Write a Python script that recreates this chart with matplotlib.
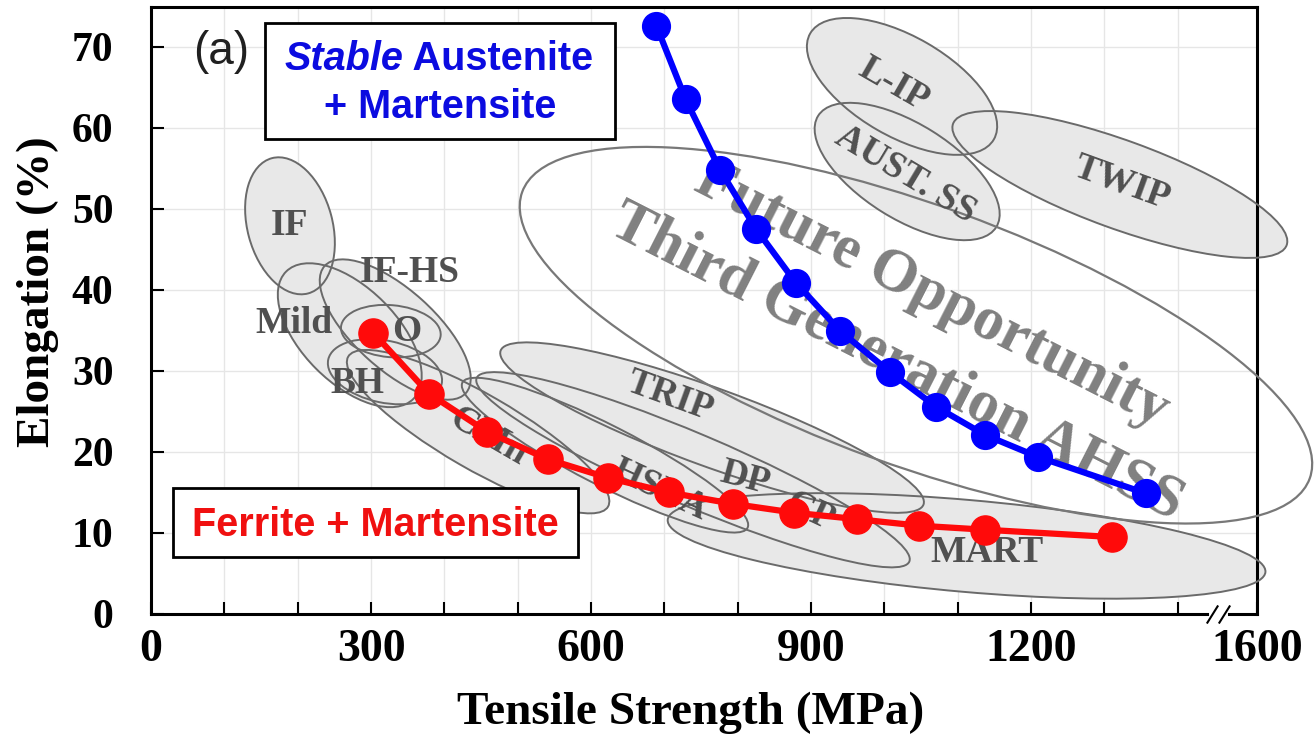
import matplotlib
matplotlib.use("Agg")
import matplotlib.pyplot as plt
from matplotlib.patches import Ellipse, Rectangle
from matplotlib.transforms import ScaledTranslation

# ---------------- data ----------------
ferrite_ts = [303, 379, 458, 541, 623, 706, 793, 877, 963, 1047, 1137, 1310]
ferrite_el = [34.7, 27.2, 22.5, 19.1, 16.8, 15.0, 13.6, 12.5, 11.7, 10.9, 10.4, 9.5]

austenite_ts = [689, 729, 776, 825, 879, 940, 1007, 1070, 1137, 1209, 1356]
austenite_el = [72.6, 63.5, 54.8, 47.5, 40.9, 34.9, 29.9, 25.6, 22.1, 19.4, 14.9]

# steel-family regions: centre (MPa, %)
region_names = ["Mild", "IF-HS", "IF", "ISO", "BH", "CMn", "HSLA", "TRIP", "DP-CP",
                "MART", "L-IP", "AUST. SS", "TWIP"]
region_ts = [271, 333, 189.5, 327, 319, 446, 619, 765, 739, 1112, 1024, 1031, 1321]
region_el = [34.4, 35.1, 47.9, 34.9, 29.9, 22.5, 19.6, 23.0, 17.8, 8.4, 65.1, 54.6, 53.0]
future_ts, future_el = 1043, 34.4

label_texts = ["IF", "IF-HS", "Mild", "O", "BH", "CMn", "HSLA", "TRIP", "DP", "CP",
               "MART", "L-IP", "AUST. SS", "TWIP"]
label_ts = [189.5, 353, 195, 349, 281, 459, 694, 708, 810, 898, 1140, 1012, 1029, 1324]
label_el = [47.9, 42.2, 35.9, 34.8, 28.5, 21.9, 15.3, 26.8, 16.8, 12.6, 7.65, 65.3, 54.2, 53.2]

future_lines = ["Future Opportunity", "Third Generation AHSS"]
future_line_ts = [1065, 1017]
future_line_el = [39.4, 31.1]

x_tick_vals = [0, 300, 600, 900, 1200, 1508]
x_tick_labels = ["0", "300", "600", "900", "1200", "1600"]
y_tick_vals = [0, 10, 20, 30, 40, 50, 60, 70]

# ---------------- styles ----------------
# ellipse sizes in pixels (major, minor) and angle in degrees
region_sizes = [(180, 95, -45), (190, 80, -42), (140, 85, -75), (100, 52, -5),
                (116, 62, -12), (300, 75, -30), (320, 60, -27), (450, 78, -20),
                (470, 72, -23), (600, 92, -5), (212, 100, -30), (210, 95, -32),
                (355, 88, -20)]
future_size = (838, 260, -20)
label_rot = [0, 0, 0, 0, 0, -30, -25, -20, -15, -25, 0, -30, -31, -20]

W, H = 1314, 738
fig = plt.figure(figsize=(W / 100, H / 100), dpi=100)
L, R, T, B = 151, 1257, 7, 614
ax = fig.add_axes([L / W, 1 - B / H, (R - L) / W, (B - T) / H])
ax.set_xlim(0, 1508)
ax.set_ylim(0, 74.9)

serif = "Liberation Serif"
sans = "Liberation Sans"

# grid
ax.set_xticks(x_tick_vals)
ax.set_xticks([v for v in range(100, 1500, 100) if v not in x_tick_vals], minor=True)
ax.set_yticks(y_tick_vals)
ax.grid(True, which="both", color="#e6e6e6", lw=1.0)
ax.set_axisbelow(True)

ax.set_xticklabels(x_tick_labels, fontfamily=serif, fontweight="bold", fontsize=33)
ax.set_yticklabels([str(v) for v in y_tick_vals], fontfamily=serif, fontweight="bold", fontsize=30)
ax.tick_params(axis="both", which="both", direction="in", length=9, width=1.5,
               top=False, right=False)
ax.tick_params(axis="x", which="both", pad=11)
ax.tick_params(axis="y", which="both", pad=27)
for s in ax.spines.values():
    s.set_linewidth(2.2)
    s.set_color("black")


def ell_transform(x, y):
    return fig.dpi_scale_trans + ScaledTranslation(x, y, ax.transData)


# fills first, then outlines
for x, y, (w, h, a) in zip(region_ts, region_el, region_sizes):
    ax.add_patch(Ellipse((0, 0), w / 100, h / 100, angle=a, transform=ell_transform(x, y),
                         facecolor="#e8e8e8", edgecolor="none", zorder=2, clip_on=False))
for x, y, (w, h, a) in zip(region_ts, region_el, region_sizes):
    ax.add_patch(Ellipse((0, 0), w / 100, h / 100, angle=a, transform=ell_transform(x, y),
                         facecolor="none", edgecolor="#6a6a6a", lw=1.4, zorder=3, clip_on=False))
w, h, a = future_size
ax.add_patch(Ellipse((0, 0), w / 100, h / 100, angle=a, transform=ell_transform(future_ts, future_el),
                     facecolor="none", edgecolor="#787878", lw=1.6, zorder=3, clip_on=False))

for t, x, y, r in zip(label_texts, label_ts, label_el, label_rot):
    ax.text(x, y, t, fontfamily=serif, fontweight="bold", fontsize=27, color="#505050",
            ha="center", va="center", rotation=r, rotation_mode="anchor", zorder=4)

for t, x, y in zip(future_lines, future_line_ts, future_line_el):
    ax.text(x, y, t, fontfamily=serif, fontweight="bold", fontsize=44, color="#808080",
            ha="center", va="center", rotation=-27, rotation_mode="anchor", zorder=4)

ax.plot(ferrite_ts, ferrite_el, "-o", color="#ff0a0a", lw=4.5, ms=21, zorder=6, clip_on=False)
ax.plot(austenite_ts, austenite_el, "-o", color="#0000ff", lw=4.5, ms=20, zorder=6, clip_on=False)

# axis break on x
ax.plot([1447, 1463], [0, 0], color="white", lw=5, zorder=7, clip_on=False)
ax.plot([1447, 1463], [0, 0], ls="none", marker=[(-1, -1.6), (1, 1.6)], ms=13,
        mec="black", mew=1.5, zorder=8, clip_on=False)


def fx(px):
    return px / W


def fy(py):
    return 1 - py / H


# boxes
fig.add_artist(Rectangle((fx(265), fy(139)), fx(615) - fx(265), fy(23) - fy(139),
                         transform=fig.transFigure, facecolor="white", edgecolor="black",
                         lw=2, zorder=9))
fig.add_artist(Rectangle((fx(173), fy(557)), fx(578) - fx(173), fy(488) - fy(557),
                         transform=fig.transFigure, facecolor="white", edgecolor="black",
                         lw=2, zorder=9))

blue_txt = "#0b0be0"
fig.text(fx(403), fy(70), "Stable", fontfamily=sans, fontweight="bold", fontstyle="italic",
         fontsize=28.5, color=blue_txt, ha="right", va="baseline", zorder=10)
fig.text(fx(403), fy(70), " Austenite", fontfamily=sans, fontweight="bold",
         fontsize=28.5, color=blue_txt, ha="left", va="baseline", zorder=10)
fig.text(fx(440), fy(118), "+ Martensite", fontfamily=sans, fontweight="bold",
         fontsize=28.5, color=blue_txt, ha="center", va="baseline", zorder=10)
fig.text(fx(375), fy(536), "Ferrite + Martensite", fontfamily=sans, fontweight="bold",
         fontsize=28.5, color="#f01010", ha="center", va="baseline", zorder=10)

fig.text(fx(221), fy(52), "(a)", fontfamily=sans, fontsize=33, color="#202020",
         ha="center", va="center", zorder=10)

fig.text(fx(691), fy(713), "Tensile Strength (MPa)", fontfamily=serif, fontweight="bold",
         fontsize=34, ha="center", va="center")
fig.text(fx(38), fy(292), "Elongation (%)", fontfamily=serif, fontweight="bold",
         fontsize=34, ha="center", va="center", rotation=90)

fig.savefig("out.png", dpi=100)
